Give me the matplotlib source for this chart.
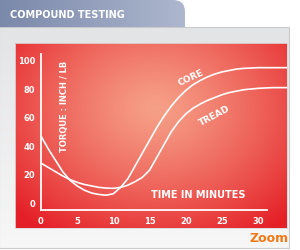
import numpy as np
import matplotlib
matplotlib.use('Agg')
import matplotlib.pyplot as plt
from matplotlib.path import Path
from matplotlib.patches import PathPatch, Rectangle
from matplotlib.colors import to_rgb

# data
time_core = [0, 1, 2, 3, 4, 5, 6, 7, 8, 9, 10, 11, 12, 13, 14, 15, 16, 17, 18, 19, 20,
             21, 22, 23, 24, 25, 26, 27, 28, 30, 32, 34]
core = [47, 38, 30, 22, 16, 12, 9, 7, 6, 5.5, 6.5, 11, 17, 26, 35, 44, 53, 61, 68, 74, 79,
        83, 86, 88.5, 90.5, 92, 93, 94, 94.5, 95, 95, 95]
time_tread = [0, 1, 2, 3, 4, 5, 6, 7, 8, 9, 10, 11, 12, 13, 14, 15, 16, 17, 18, 19, 20,
              21, 22, 23, 24, 25, 26, 27, 28, 30, 32, 34]
tread = [28, 25, 22, 19, 16.5, 14.5, 13, 12, 11, 10.5, 10.3, 11, 12.5, 15, 18, 23, 32, 41, 50, 57, 62.5,
         66.5, 69.5, 72, 74, 76, 77.5, 78.5, 79.5, 80.5, 81, 81]
x_ticks = [0, 5, 10, 15, 20, 25, 30]
y_ticks = [0, 20, 40, 60, 80, 100]

W, H = 300, 250
fig = plt.figure(figsize=(3, 2.5), dpi=100)
fig.patch.set_facecolor('white')

# background layer in pixel coords
bg = fig.add_axes([0, 0, 1, 1])
bg.set_xlim(0, W)
bg.set_ylim(H, 0)
bg.axis('off')

def hgrad(c1, c2, n=256):
    a, b = np.array(to_rgb(c1)), np.array(to_rgb(c2))
    t = np.linspace(0, 1, n)[None, :, None]
    return a + (b - a) * t

def vgrad(c1, c2, n=256):
    a, b = np.array(to_rgb(c1)), np.array(to_rgb(c2))
    t = np.linspace(0, 1, n)[:, None, None]
    return a + (b - a) * t

# grey panel
bg.imshow(vgrad('#e3e4e6', '#f7f7f7'), extent=(0, 289, 248, 27), aspect='auto', zorder=1)
bg.add_patch(Rectangle((-1, 27), 290, 221, fill=False, ec='#c9cacc', lw=0.8, zorder=2))

# title tab with rounded top right corner
r = 12
verts = [(0, 27), (0, 0), (185 - r, 0), (185, 0), (185, r), (185, 27), (0, 27)]
codes = [Path.MOVETO, Path.LINETO, Path.LINETO, Path.CURVE3, Path.CURVE3, Path.LINETO, Path.CLOSEPOLY]
tab = PathPatch(Path(verts, codes), fc='none', ec='none', zorder=2)
bg.add_patch(tab)
im = bg.imshow(hgrad('#7a88aa', '#adb7ce'), extent=(0, 185, 27, 0), aspect='auto', zorder=2)
im.set_clip_path(tab)
bg.text(10, 14.5, 'COMPOUND TESTING', color='white', fontsize=7, fontweight='bold',
        va='center', ha='left', zorder=3)

# red panel with radial gradient
ny, nx = 185, 272
yy, xx = np.mgrid[0:ny, 0:nx]
d = np.sqrt(((xx - 140) / 190.0) ** 2 + ((yy - 65) / 150.0) ** 2)
d = np.clip(d, 0, 1) ** 1.2
light, dark = np.array(to_rgb('#f6a088')), np.array(to_rgb('#e51f27'))
red_img = light + (dark - light) * d[..., None]
bg.imshow(red_img, extent=(15, 287, 228, 43), aspect='auto', zorder=3)
bg.add_patch(Rectangle((15, 43), 272, 185, fill=False, ec='#d9d9d9', lw=0.6, zorder=4))

bg.text(269, 238, 'Zoom', color='#f07a16', fontsize=9, fontweight='bold',
        ha='center', va='center', zorder=5)

# data axes
ax = fig.add_axes([41 / W, 40 / H, 246 / W, 156 / H])
ax.patch.set_alpha(0)
ax.set_xlim(0, 34)
ax.set_ylim(-4.9, 104.6)
for s in ['top', 'right']:
    ax.spines[s].set_visible(False)
for s in ['left', 'bottom']:
    ax.spines[s].set_color('white')
    ax.spines[s].set_linewidth(1.3)
ax.spines['bottom'].set_bounds(0, 31.3)

ax.plot(time_core, core, color='white', lw=1.2, solid_capstyle='butt', clip_on=False)
ax.plot(time_tread, tread, color='white', lw=1.2, solid_capstyle='butt', clip_on=False)

ax.set_xticks(x_ticks)
ax.set_yticks(y_ticks)
ax.tick_params(length=0, colors='white', labelsize=6)
ax.tick_params(axis='x', pad=5)
ax.tick_params(axis='y', pad=4)
for lab in ax.get_xticklabels() + ax.get_yticklabels():
    lab.set_fontweight('bold')

fig.text(64 / W, 1 - 106 / H, 'TORQUE : INCH / LB', color='white', fontsize=6, fontweight='bold',
         rotation=90, ha='center', va='center')
fig.text(198 / W, 1 - 194.5 / H, 'TIME IN MINUTES', color='white', fontsize=7, fontweight='bold',
         ha='center', va='center')
fig.text(191 / W, 1 - 78 / H, 'CORE', color='white', fontsize=6.5, fontweight='bold',
         rotation=25, ha='center', va='center')
fig.text(215 / W, 1 - 116 / H, 'TREAD', color='white', fontsize=6.5, fontweight='bold',
         rotation=28, ha='center', va='center')

fig.savefig('out.png', dpi=100)
